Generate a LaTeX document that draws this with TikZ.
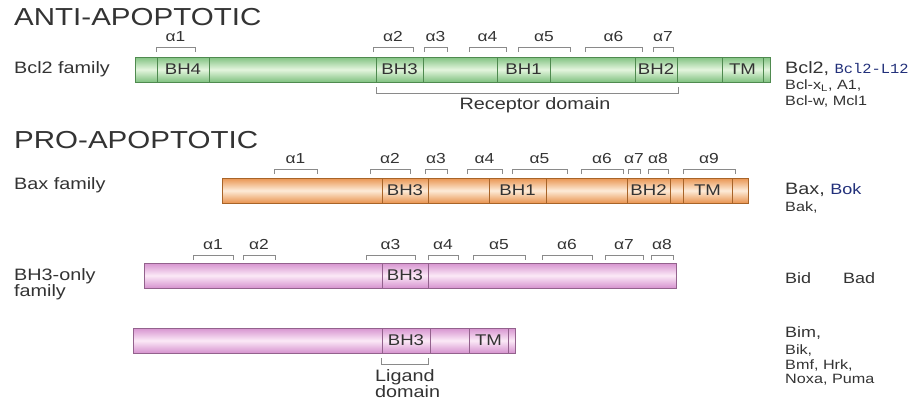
\documentclass[tikz,border=0pt]{standalone}
\usepackage{fontspec}
\setmainfont{Liberation Sans}[FakeStretch=1.2]
\newfontfamily\monof{Liberation Mono}[FakeStretch=1.1]

\definecolor{ink}{HTML}{333333}
\definecolor{navy}{HTML}{22307A}
\definecolor{brkgray}{HTML}{8A8A8A}
\definecolor{gEdge}{HTML}{80C280}
\definecolor{gLight}{HTML}{E4F5DE}
\definecolor{gLine}{HTML}{4F8A4F}
\definecolor{oEdge}{HTML}{E99450}
\definecolor{oLight}{HTML}{FDEBD8}
\definecolor{oLine}{HTML}{A86428}
\definecolor{pEdge}{HTML}{D693CF}
\definecolor{pLight}{HTML}{FBE9F7}
\definecolor{pLine}{HTML}{93628D}

\newcommand\fs[1]{\fontsize{#1}{#1}\selectfont}

% helix bracket above a bar: name, x1, x2, y of bracket, number
\newcommand\helix[5]{%
  \draw[brk] (#2,#4+5) |- (#3,#4) -- (#3,#4+5);
  \node[alab] (#1) at ({(#2+#3)/2},#4-10) {α#5};
}
% shaded protein bar: name, palette prefix, x1, x2, top y
\newcommand\protein[5]{%
  \node[protbar, top color=#2Edge, bottom color=#2Edge, middle color=#2Light,
        draw=#2Line, minimum width={#4-#3}] (#1) at ({(#3+#4)/2},#5+12.5) {};
}
% boxed domain inside a bar: name, line colour, x1, x2, centre y, text
\newcommand\domain[6]{%
  \node[dom, draw=#2, minimum width={#4-#3}] (#1) at ({(#3+#4)/2},#5) {#6};
}

\begin{document}
\begin{tikzpicture}[x=1pt, y=-1pt,
  brk/.style={draw=brkgray, line width=0.9pt},
  alab/.style={text=ink, font=\fs{14.5}, inner sep=0pt},
  protbar/.style={rectangle, line width=0.8pt, minimum height=25pt, inner sep=0pt},
  dom/.style={rectangle, line width=0.8pt, minimum height=25pt, inner sep=0pt,
              text=ink, font=\fs{15.5}},
  lab/.style={text=ink, font=\fs{16.5}, inner sep=0pt, anchor=west},
  small/.style={text=ink, font=\fs{13.5}, inner sep=0pt, anchor=west},
  title/.style={text=ink, font=\fs{24.6}, inner sep=0pt, anchor=west},
  domlab/.style={text=ink, font=\fs{16.5}, inner sep=0pt, align=left}]

\useasboundingbox (0,0) rectangle (915,402);

% ---------------- anti-apoptotic ----------------
\node[title] (anti) at (14,17) {ANTI-APOPTOTIC};
\node[lab] (fbcl) at (14,69) {Bcl2 family};

\protein{bcl}{g}{135}{770}{57}
\draw[gLine, line width=0.8pt] (157,57) -- (157,82);
\domain{bclbh4}{gLine}{157}{209}{69.5}{BH4}
\domain{bclbh3}{gLine}{376}{423}{69.5}{BH3}
\domain{bclbh1}{gLine}{497}{550}{69.5}{BH1}
\domain{bclbh2}{gLine}{635}{677}{69.5}{BH2}
\domain{bcltm}{gLine}{722}{763}{69.5}{TM}

\helix{ba1}{156}{195}{47}{1}
\helix{ba2}{373}{413}{47}{2}
\helix{ba3}{424}{447}{47}{3}
\helix{ba4}{469}{506}{47}{4}
\helix{ba5}{518}{570}{47}{5}
\helix{ba6}{585}{642}{47}{6}
\helix{ba7}{653}{673}{47}{7}

\draw[brk] (376,87) |- (678,93) -- (678,87);
\node[lab, anchor=center] (recep) at (535,105) {Receptor domain};

\node[lab] (rbcl1) at (785,69) {Bcl2, {\color{navy}\monof\fs{14}Bcl2-L12}};
\node[small] (rbcl2) at (785,86) {Bcl-x\textsubscript{L}, A1,};
\node[small] (rbcl3) at (785,101) {Bcl-w, Mcl1};

% ---------------- pro-apoptotic ----------------
\node[title] (pro) at (14,140) {PRO-APOPTOTIC};

% Bax family
\node[lab] (fbax) at (14,185) {Bax family};
\protein{bax}{o}{222}{748}{178}
\domain{baxbh3}{oLine}{382}{428}{190.5}{BH3}
\domain{baxbh1}{oLine}{489}{546}{190.5}{BH1}
\domain{baxbh2}{oLine}{627}{670}{190.5}{BH2}
\domain{baxtm}{oLine}{683}{732}{190.5}{TM}

\helix{xa1}{274}{317}{169}{1}
\helix{xa2}{370}{410}{169}{2}
\helix{xa3}{425}{447}{169}{3}
\helix{xa4}{467}{502}{169}{4}
\helix{xa5}{512}{567}{169}{5}
\helix{xa6}{581}{623}{169}{6}
\helix{xa7}{628}{640}{169}{7}
\helix{xa8}{648}{668}{169}{8}
\helix{xa9}{683}{735}{169}{9}

\node[lab] (rbax1) at (785,190) {Bax, {\color{navy}\fs{15}Bok}};
\node[small] (rbax2) at (785,207) {Bak,};

% BH3-only family, first bar
\node[lab, align=left, anchor=north west] (fbh3) at (14,268) {BH3-only\\[-0.5pt]family};
\protein{bho}{p}{144}{676}{263}
\domain{bhobh3}{pLine}{382}{428}{275.5}{BH3}

\helix{oa1}{193}{233}{255}{1}
\helix{oa2}{243}{275}{255}{2}
\helix{oa3}{366}{415}{255}{3}
\helix{oa4}{428}{458}{255}{4}
\helix{oa5}{473}{525}{255}{5}
\helix{oa6}{542}{592}{255}{6}
\helix{oa7}{605}{643}{255}{7}
\helix{oa8}{651}{673}{255}{8}

\node[lab, font=\fs{15}] (rbid) at (785,278) {Bid};
\node[lab, font=\fs{15}] (rbad) at (843,278) {Bad};

% BH3-only family, second bar
\protein{bht}{p}{133}{515}{328}
\domain{bhtbh3}{pLine}{382}{430}{340.5}{BH3}
\domain{bhttm}{pLine}{469}{508}{340.5}{TM}

\draw[brk] (381,358) |- (428,364) -- (428,358);
\node[domlab, anchor=north west] (lig) at (375,369) {Ligand\\[-0.5pt]domain};

\node[small, font=\fs{15}] (rbim) at (785,333) {Bim,};
\node[small] (rbik) at (785,350) {Bik,};
\node[small] (rbmf) at (785,365) {Bmf, Hrk,};
\node[small] (rnox) at (785,380) {Noxa, Puma};

\end{tikzpicture}
\end{document}
